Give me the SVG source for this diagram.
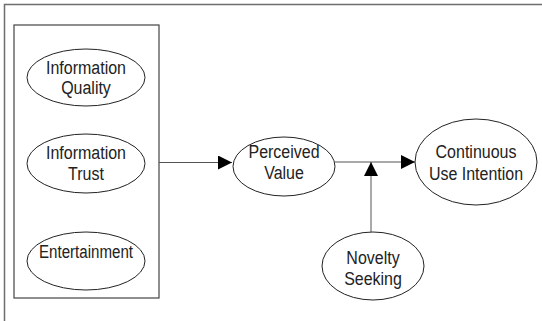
<svg xmlns="http://www.w3.org/2000/svg" width="542" height="321" viewBox="0 0 542 321">
<defs>
<style>
.fr{fill:none;stroke:#6e6e6e;stroke-width:1.5}
.box{fill:none;stroke:#444;stroke-width:1.2}
.el{fill:#fff;stroke:#222;stroke-width:1}
.ln{fill:none;stroke:#555;stroke-width:1}
text{font-family:"Liberation Sans",Arial,sans-serif;font-size:16px;fill:#222;text-anchor:middle}
</style>
<marker id="ah" viewBox="0 0 14 14" refX="14" refY="7" markerWidth="14" markerHeight="14" markerUnits="userSpaceOnUse" orient="auto">
<path d="M0,0 L14,7 L0,14 Z" fill="#000"/>
</marker>
</defs>
<rect width="542" height="321" fill="#fff"/>
<path class="fr" d="M4.5,321 V4.5 H542"/>
<g id="factors">
<rect class="box" x="14" y="25" width="145" height="273"/>
</g>
<g id="connectors">
<line class="ln" x1="159" y1="162.5" x2="232" y2="162.5" marker-end="url(#ah)"/>
<line class="ln" x1="335" y1="162" x2="415" y2="162" marker-end="url(#ah)"/>
<line class="ln" x1="371" y1="232" x2="371" y2="162" marker-end="url(#ah)"/>
</g>
<g id="info-quality">
<ellipse class="el" cx="86" cy="77.5" rx="59" ry="28.5"/>
<text transform="translate(86,74) scale(1,1.1)">Information</text>
<text transform="translate(86,94) scale(1,1.1)">Quality</text>
</g>
<g id="info-trust">
<ellipse class="el" cx="86" cy="163.5" rx="59" ry="29.5"/>
<text transform="translate(86,159) scale(1,1.1)">Information</text>
<text transform="translate(86,180) scale(1,1.1)">Trust</text>
</g>
<g id="entertainment">
<ellipse class="el" cx="86" cy="261" rx="59" ry="29"/>
<text transform="translate(86,258) scale(1,1.1)" textLength="94" lengthAdjust="spacingAndGlyphs">Entertainment</text>
</g>
<g id="perceived-value">
<ellipse class="el" cx="284" cy="166.5" rx="51" ry="29.5"/>
<text transform="translate(284,158) scale(1,1.1)">Perceived</text>
<text transform="translate(284,179) scale(1,1.1)">Value</text>
</g>
<g id="continuous-use">
<ellipse class="el" cx="476" cy="162" rx="61" ry="43"/>
<text transform="translate(476,158) scale(1,1.1)">Continuous</text>
<text transform="translate(476,180) scale(1,1.1)">Use Intention</text>
</g>
<g id="novelty-seeking">
<ellipse class="el" cx="373" cy="266" rx="51" ry="34"/>
<text transform="translate(373,264) scale(1,1.1)">Novelty</text>
<text transform="translate(373,285) scale(1,1.1)">Seeking</text>
</g>
</svg>
